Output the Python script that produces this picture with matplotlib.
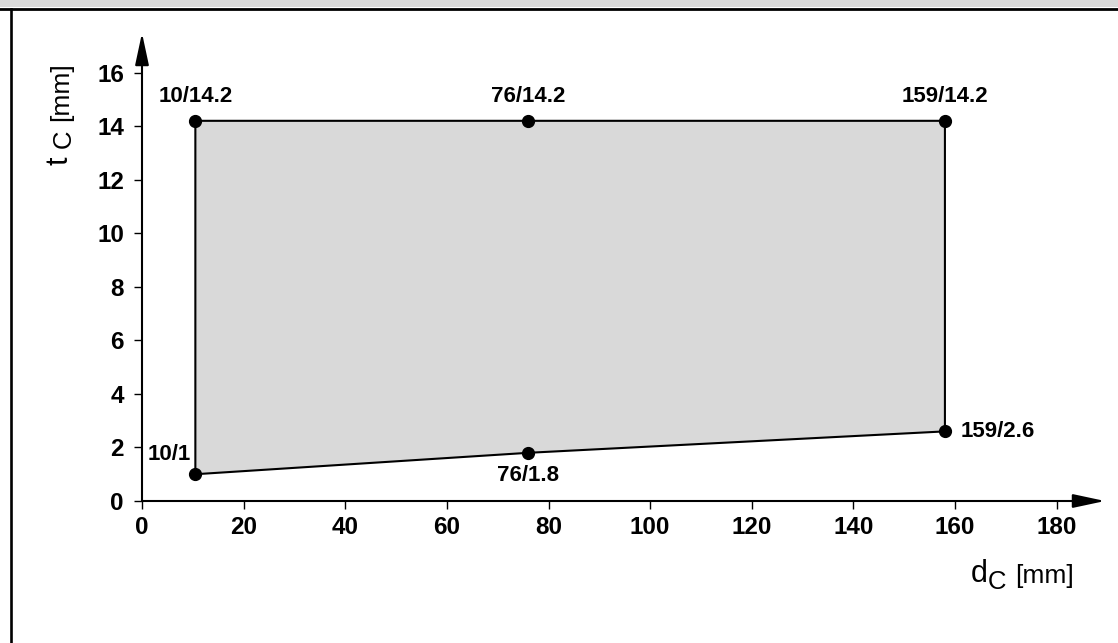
import matplotlib.pyplot as plt
from matplotlib.lines import Line2D
from matplotlib.patches import Rectangle

plt.rcParams['font.family'] = ['Liberation Sans', 'DejaVu Sans']

# corner points of the region (d_C, t_C)
d_top = [10.5, 76, 158]
t_top = [14.2, 14.2, 14.2]
d_bot = [10.5, 76, 158]
t_bot = [1.0, 1.8, 2.6]
top_labels = ['10/14.2', '76/14.2', '159/14.2']
bot_labels = ['10/1', '76/1.8', '159/2.6']

x_ticks = [0, 20, 40, 60, 80, 100, 120, 140, 160, 180]
y_ticks = [0, 2, 4, 6, 8, 10, 12, 14, 16]

W, H = 1118, 643
fig = plt.figure(figsize=(W / 100, H / 100), dpi=100)


def px(x, y):
    # pixel position (from top-left) -> figure fraction
    return x / W, 1 - y / H


# frame: grey band on top, black rule under it, black rule on the left
fig.patches.append(Rectangle((0, 1 - 7 / H), 1, 7 / H, transform=fig.transFigure,
                             facecolor='#d9d9d9', edgecolor='none'))
fig.lines.append(Line2D([0, 1], [1 - 8.7 / H] * 2, transform=fig.transFigure,
                        color='black', lw=2))
fig.lines.append(Line2D([11.3 / W] * 2, [0, 1 - 8.7 / H], transform=fig.transFigure,
                        color='black', lw=1.9))

ax = fig.add_axes([142 / W, 142 / H, (1105 - 142) / W, (501 - 33) / H])
ax.set_xlim(0, 189.5)
ax.set_ylim(0, 17.48)

# shaded region
poly_d = d_top + d_bot[::-1]
poly_t = t_top + t_bot[::-1]
ax.fill(poly_d, poly_t, facecolor='#d9d9d9', edgecolor='black', lw=1.5, zorder=2)
ax.plot(d_top + d_bot, t_top + t_bot, 'o', color='black', ms=8.5, zorder=3)

lab = dict(fontsize=16, fontweight='bold', textcoords='offset points')
for d, t, s in zip(d_top, t_top, top_labels):
    ax.annotate(s, (d, t), xytext=(0, 10), ha='center', va='bottom', **lab)
ax.annotate(bot_labels[0], (d_bot[0], t_bot[0]), xytext=(-3, 7), ha='right', va='bottom', **lab)
ax.annotate(bot_labels[1], (d_bot[1], t_bot[1]), xytext=(0, -9), ha='center', va='top', **lab)
ax.annotate(bot_labels[2], (d_bot[2], t_bot[2]), xytext=(11, 0), ha='left', va='center', **lab)

# axes drawn as arrows
for s in ['top', 'right', 'left', 'bottom']:
    ax.spines[s].set_visible(False)
arrow = dict(arrowstyle='-|>,head_length=1.4,head_width=0.3', mutation_scale=14,
             color='black', lw=1.5, shrinkA=0, shrinkB=0)
ax.annotate('', xy=(1, 0), xytext=(0, 0), xycoords='axes fraction',
            arrowprops=arrow, annotation_clip=False)
ax.annotate('', xy=(0, 1), xytext=(0, 0), xycoords='axes fraction',
            arrowprops=arrow, annotation_clip=False)

ax.set_xticks(x_ticks)
ax.set_yticks(y_ticks)
ax.tick_params(direction='out', length=6, width=1, labelsize=17.5)
ax.tick_params(axis='y', pad=7)
ax.tick_params(axis='x', pad=5)
for t in ax.get_xticklabels() + ax.get_yticklabels():
    t.set_fontweight('bold')

# axis titles, pieced together (big letter, subscript C, unit)
anc = dict(rotation_mode='anchor', ha='left', va='baseline')
fig.text(*px(971, 582), 'd', fontsize=22, **anc)
fig.text(*px(988, 589), 'C', fontsize=18.5, **anc)
fig.text(*px(1015, 583), '[mm]', fontsize=19, **anc)

fig.text(*px(68, 165), 't', fontsize=22, rotation=90, **anc)
fig.text(*px(71, 148), 'C', fontsize=18.5, rotation=90, **anc)
fig.text(*px(68, 121), '[mm]', fontsize=19, rotation=90, **anc)

fig.savefig('out.png', dpi=100)
